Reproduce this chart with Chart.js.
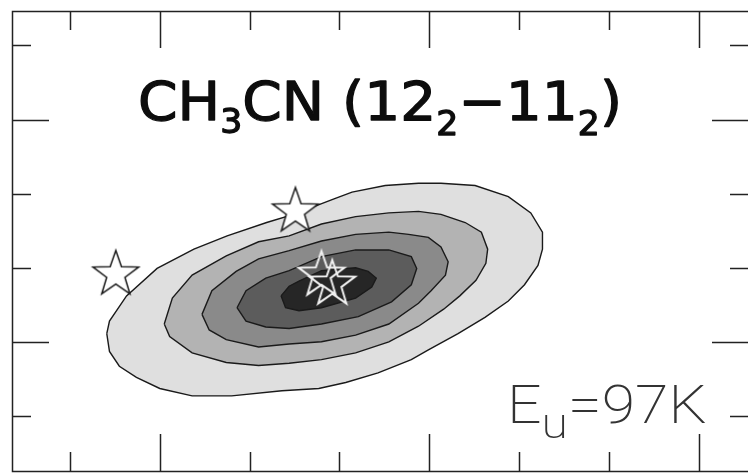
<!DOCTYPE html>
<html>
<head>
<meta charset="utf-8">
<script src="https://cdn.jsdelivr.net/npm/chart.js@4.4.0/dist/chart.umd.min.js"></script>
<style>
html, body { margin: 0; padding: 0; background: #fff; overflow: hidden; }
#map { position: absolute; left: 0; top: 0; }
</style>
</head>
<body>
<canvas id="map" width="760" height="482"></canvas>
<script>
// offsets (arcsec) - ticks only, no labels in the panel
var xTicks = [-4, -3, -2, -1, 0, 1, 2, 3];
var xMajor = [-3, 0, 3];
var yTicks = [-1, 0, 1, 2, 3, 4];
var yMajor = [0, 3];

// contour levels, outermost first
var level1 = [[-3.59, 0.11], [-3.56, 0.28], [-3.37, 0.62], [-3.03, 0.99], [-2.62, 1.25], [-2.25, 1.43],
    [-1.81, 1.61], [-1.51, 1.72], [-1.06, 1.93], [-0.86, 2.02], [-0.49, 2.11], [-0.12, 2.14],
    [0.13, 2.14], [0.51, 2.11], [0.88, 1.96], [1.13, 1.74], [1.26, 1.48], [1.26, 1.25],
    [1.21, 1.03], [1.06, 0.77], [0.88, 0.55], [0.62, 0.33], [0.32, 0.11], [-0.01, -0.11],
    [-0.20, -0.24], [-0.57, -0.42], [-0.93, -0.55], [-1.23, -0.63], [-1.64, -0.66], [-2.20, -0.73],
    [-2.64, -0.73], [-3.00, -0.63], [-3.26, -0.48], [-3.45, -0.33], [-3.56, -0.13], [-3.59, 0.11]];
var level2 = [[-2.95, 0.24], [-2.86, 0.59], [-2.64, 0.90], [-2.26, 1.16], [-1.90, 1.35], [-1.56, 1.43],
    [-1.20, 1.59], [-0.82, 1.69], [-0.45, 1.74], [-0.12, 1.76], [0.13, 1.72], [0.40, 1.61],
    [0.58, 1.48], [0.65, 1.25], [0.63, 1.06], [0.52, 0.83], [0.34, 0.62], [0.16, 0.44],
    [-0.12, 0.21], [-0.45, 0.00], [-0.82, -0.15], [-1.20, -0.24], [-1.56, -0.29], [-1.90, -0.32],
    [-2.26, -0.28], [-2.64, -0.15], [-2.89, 0.07], [-2.95, 0.24]];
var level3 = [[-2.53, 0.37], [-2.42, 0.69], [-2.15, 0.95], [-1.90, 1.12], [-1.56, 1.23], [-1.20, 1.36],
    [-0.82, 1.45], [-0.45, 1.48], [-0.23, 1.45], [-0.01, 1.41], [0.13, 1.28], [0.21, 1.08],
    [0.18, 0.90], [0.02, 0.69], [-0.12, 0.52], [-0.45, 0.24], [-0.82, 0.09], [-1.20, 0.00],
    [-1.56, -0.03], [-1.90, -0.07], [-2.26, 0.03], [-2.45, 0.16], [-2.53, 0.37]];
var level4 = [[-2.14, 0.46], [-2.04, 0.69], [-1.82, 0.86], [-1.56, 0.96], [-1.20, 1.15], [-0.82, 1.24],
    [-0.45, 1.24], [-0.20, 1.15], [-0.14, 0.99], [-0.20, 0.77], [-0.42, 0.54], [-0.79, 0.34],
    [-1.20, 0.24], [-1.56, 0.18], [-1.82, 0.20], [-2.04, 0.28], [-2.14, 0.46]];
var level5 = [[-1.65, 0.62], [-1.56, 0.75], [-1.45, 0.82], [-1.20, 0.96], [-0.82, 1.00], [-0.68, 0.95],
    [-0.59, 0.86], [-0.64, 0.74], [-0.82, 0.59], [-1.20, 0.46], [-1.45, 0.42], [-1.60, 0.46],
    [-1.65, 0.62]];
var levels = [level1, level2, level3, level4, level5];
var levelColors = ['#dfdfdf', '#b3b3b3', '#8a8a8a', '#5c5c5c', '#262626'];

// star markers
var sources = [[-3.49, 0.91], [-1.49, 1.76]];
var peaks = [[-1.20, 0.90], [-1.08, 0.78]];

function starImage(r, stroke, fill, lw) {
    var s = Math.ceil(2 * r + 6);
    var c = document.createElement('canvas');
    c.width = s;
    c.height = s;
    var g = c.getContext('2d');
    g.beginPath();
    for (var i = 0; i < 10; i++) {
        var rad = i % 2 ? r * 0.4 : r;
        var a = -Math.PI / 2 + i * Math.PI / 5;
        g.lineTo(s / 2 + rad * Math.cos(a), s / 2 + rad * Math.sin(a));
    }
    g.closePath();
    if (fill) {
        g.fillStyle = fill;
        g.fill();
    }
    g.lineJoin = 'miter';
    g.lineWidth = lw;
    g.strokeStyle = stroke;
    g.stroke();
    return c;
}

function drawPieces(ctx, pieces, x, y, target, outline) {
    var w = 0;
    pieces.forEach(function (p) {
        ctx.font = p.font;
        w += ctx.measureText(p.t).width;
    });
    ctx.save();
    ctx.translate(x, y);
    ctx.scale(target / w, 1);
    var cx = 0;
    pieces.forEach(function (p) {
        ctx.font = p.font;
        ctx.fillText(p.t, cx, p.dy);
        if (outline) ctx.strokeText(p.t, cx, p.dy);
        cx += ctx.measureText(p.t).width;
    });
    ctx.restore();
}

var framePlugin = {
    id: 'frame',
    afterDatasetsDraw: function (chart) {
        var ctx = chart.ctx, a = chart.chartArea;
        var xs = chart.scales.x, ys = chart.scales.y;
        ctx.save();
        ctx.strokeStyle = '#222';
        ctx.lineWidth = 1.5;
        ctx.beginPath();
        xTicks.forEach(function (v) {
            var px = Math.round(xs.getPixelForValue(v)) + 0.5;
            var len = xMajor.indexOf(v) >= 0 ? 37 : 19;
            ctx.moveTo(px, a.top);
            ctx.lineTo(px, a.top + len);
            ctx.moveTo(px, a.bottom);
            ctx.lineTo(px, a.bottom - len);
        });
        yTicks.forEach(function (v) {
            var py = Math.round(ys.getPixelForValue(v)) + 0.5;
            var len = yMajor.indexOf(v) >= 0 ? 37 : 19;
            ctx.moveTo(a.left, py);
            ctx.lineTo(a.left + len, py);
            ctx.moveTo(a.right, py);
            ctx.lineTo(a.right - len, py);
        });
        ctx.rect(a.left + 0.5, a.top + 0.5, a.right - a.left, a.bottom - a.top);
        ctx.stroke();

        ctx.fillStyle = '#0d0d0d';
        ctx.strokeStyle = '#0d0d0d';
        ctx.lineWidth = 1.3;
        ctx.lineJoin = 'round';
        ctx.textBaseline = 'alphabetic';
        var big = '54px "DejaVu Sans", "Liberation Sans", sans-serif';
        var sub = '33px "DejaVu Sans", "Liberation Sans", sans-serif';
        drawPieces(ctx, [
            {t: 'CH', font: big, dy: 0},
            {t: '3', font: sub, dy: 13},
            {t: 'CN (12', font: big, dy: 0},
            {t: '2', font: sub, dy: 15},
            {t: '\u221211', font: big, dy: 0},
            {t: '2', font: sub, dy: 15},
            {t: ')', font: big, dy: 0}
        ], a.left + 126, a.top + 109, 484, true);

        ctx.fillStyle = '#333';
        var thin = '200 53px Roboto, "Liberation Sans", sans-serif';
        var thinSub = '200 42px Roboto, "Liberation Sans", sans-serif';
        drawPieces(ctx, [
            {t: 'E', font: thin, dy: 0},
            {t: 'u', font: thinSub, dy: 15},
            {t: '=97K', font: thin, dy: 0}
        ], a.left + 495, a.top + 412, 200, false);
        ctx.restore();
    }
};

var datasets = levels.map(function (pts, i) {
    return {
        data: pts,
        showLine: true,
        fill: 'shape',
        backgroundColor: levelColors[i],
        borderColor: '#1a1a1a',
        borderWidth: 1.4,
        pointRadius: 0,
        tension: 0,
        order: 10 - i
    };
});
datasets.push({
    data: sources,
    showLine: false,
    pointStyle: starImage(24, '#1a1a1a', '#ffffff', 1.5),
    pointRadius: 10,
    order: 1
});
datasets.push({
    data: peaks,
    showLine: false,
    pointStyle: starImage(24, '#f2f2f2', null, 2),
    pointRadius: 10,
    order: 0
});

new Chart(document.getElementById('map').getContext('2d'), {
    type: 'scatter',
    data: { datasets: datasets },
    options: {
        responsive: false,
        animation: false,
        devicePixelRatio: 1,
        events: [],
        layout: { padding: { left: 12, top: 7, right: 8, bottom: 5 } },
        scales: {
            x: { type: 'linear', display: false, min: -4.645, max: 3.559 },
            y: { type: 'linear', display: false, min: -1.744, max: 4.465 }
        },
        plugins: {
            legend: { display: false },
            tooltip: { enabled: false }
        }
    },
    plugins: [framePlugin]
});
</script>
</body>
</html>
